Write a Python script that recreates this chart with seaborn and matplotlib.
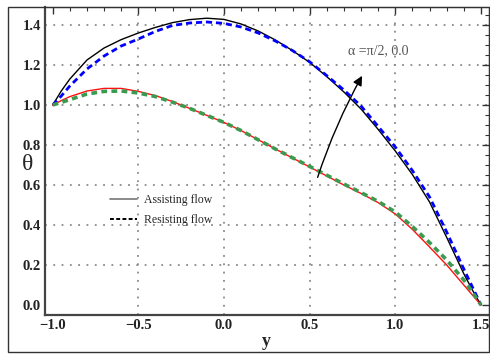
import numpy as np
import pandas as pd
import matplotlib
matplotlib.use("Agg")
import matplotlib.pyplot as plt
from matplotlib.lines import Line2D
from matplotlib.patches import Rectangle
from matplotlib.ticker import MultipleLocator, FuncFormatter
import seaborn as sns

# ---- data ----
y_vals = [-1.0, -0.95, -0.9, -0.8, -0.7, -0.6, -0.5, -0.4, -0.3, -0.2, -0.1, 0.0, 0.1, 0.2,
          0.3, 0.4, 0.5, 0.6, 0.7, 0.8, 0.9, 1.0, 1.1, 1.2, 1.3, 1.4, 1.45, 1.5]
assist_upper = [1.0, 1.07, 1.13, 1.225, 1.285, 1.327, 1.36, 1.388, 1.412, 1.427, 1.434, 1.428,
                1.405, 1.37, 1.325, 1.272, 1.213, 1.142, 1.065, 0.98, 0.878, 0.77, 0.652,
                0.515, 0.338, 0.156, 0.075, 0.0]
resist_upper = [1.0, 1.045, 1.095, 1.18, 1.245, 1.295, 1.33, 1.368, 1.398, 1.41, 1.415, 1.408,
                1.39, 1.36, 1.32, 1.272, 1.216, 1.147, 1.075, 0.995, 0.893, 0.79, 0.672,
                0.54, 0.365, 0.18, 0.09, 0.0]
assist_lower = [1.0, 1.022, 1.042, 1.07, 1.083, 1.083, 1.068, 1.047, 1.017, 0.983, 0.948, 0.913,
                0.872, 0.826, 0.78, 0.735, 0.69, 0.645, 0.6, 0.558, 0.512, 0.455, 0.378,
                0.29, 0.2, 0.1, 0.05, 0.0]
resist_lower = [1.0, 1.013, 1.027, 1.055, 1.068, 1.07, 1.06, 1.042, 1.014, 0.983, 0.948, 0.913,
                0.872, 0.826, 0.78, 0.736, 0.693, 0.649, 0.605, 0.562, 0.518, 0.465, 0.392,
                0.312, 0.225, 0.125, 0.065, 0.0]

x_ticks = [-1.0, -0.5, 0.0, 0.5, 1.0, 1.5]
y_ticks = [0.0, 0.2, 0.4, 0.6, 0.8, 1.0, 1.2, 1.4]
legend_labels = ["Assisting flow", "Resisting flow"]
annot_text = "α =π/2, 0.0"

df = pd.DataFrame({"y": y_vals, "au": assist_upper, "ru": resist_upper,
                   "al": assist_lower, "rl": resist_lower})

sns.set_style("white")
plt.rcParams["font.family"] = ["Liberation Serif", "DejaVu Serif"]

fig = plt.figure(figsize=(4.9, 3.54), dpi=100)
ax = fig.add_axes([45 / 490, 1 - 315 / 354, (489 - 45) / 490, (315 - 7) / 354])

ax.set_xlim(-1.045, 1.547)
ax.set_ylim(-0.05, 1.49)

# grid (dotted) at interior major ticks
for gx in [-0.5, 0.0, 0.5, 1.0]:
    ax.axvline(gx, color="#8a8a8a", lw=1.3, ls=(0, (1, 3.6)), zorder=0)
for gy in [0.2, 0.4, 0.6, 0.8, 1.0, 1.2, 1.4]:
    ax.axhline(gy, color="#8a8a8a", lw=1.3, ls=(0, (1, 3.6)), zorder=0)

sns.lineplot(data=df, x="y", y="au", ax=ax, color="black", lw=1.0, sort=False)
sns.lineplot(data=df, x="y", y="ru", ax=ax, color="#0000ff", lw=2.0, sort=False,
             linestyle=(0, (2.2, 1.4)))
sns.lineplot(data=df, x="y", y="al", ax=ax, color="#ff1010", lw=1.0, sort=False)
sns.lineplot(data=df, x="y", y="rl", ax=ax, color="#3c9a50", lw=2.6, sort=False,
             linestyle=(0, (1.6, 1.2)))

# ticks
ax.set_xticks(x_ticks)
ax.set_yticks(y_ticks)
ax.xaxis.set_minor_locator(MultipleLocator(0.1))
ax.yaxis.set_minor_locator(MultipleLocator(0.05))
ax.xaxis.set_major_formatter(FuncFormatter(lambda v, p: f"{v:.1f}".replace("-", "\u2212")))
ax.yaxis.set_major_formatter(FuncFormatter(lambda v, p: f"{v:.1f}"))
ax.tick_params(which="both", direction="in", top=True, right=True, colors="#333333")
ax.tick_params(which="major", length=5, width=1.0, labelsize=10.5, pad=3)
ax.tick_params(which="minor", length=2.8, width=0.8)
for lab in ax.get_xticklabels() + ax.get_yticklabels():
    lab.set_fontweight("bold")
    lab.set_color("#222222")

for side in ["left", "bottom"]:
    ax.spines[side].set_linewidth(1.6)
    ax.spines[side].set_color("#444444")
for side in ["top", "right"]:
    ax.spines[side].set_linewidth(0.8)
    ax.spines[side].set_color("#555555")

ax.set_xlabel("")
ax.set_ylabel("")
fig.text(27.5 / 490, 1 - 165 / 354, "θ", fontsize=17, ha="center", va="center")
fig.text(266 / 490, 1 - 342 / 354, "y", fontsize=13, fontweight="bold", ha="center", va="center")

# legend
handles = [Line2D([], [], color="#777777", lw=1.2),
           Line2D([], [], color="black", lw=1.4, ls=(0, (2, 1.2)))]
leg = ax.legend(handles, legend_labels, loc="upper left", bbox_to_anchor=(60 / 444, 1 - 182 / 308),
                frameon=False, fontsize=8.5, handlelength=2.3, handletextpad=0.6,
                labelspacing=0.7, borderaxespad=0)

# annotation arrow
ax.annotate("", xy=(0.814, 1.158), xytext=(0.5415, 0.625),
            arrowprops=dict(arrowstyle="-|>", color="black", lw=1.0,
                            connectionstyle="arc3,rad=-0.05", mutation_scale=14))
ax.text(0.9, 1.27, annot_text, fontsize=10, color="#555555", ha="center", va="center")

# outer frame
fig.patches.append(Rectangle((8 / 490, 2 / 354), 481 / 490, 345 / 354, transform=fig.transFigure,
                             fill=False, edgecolor="#333333", lw=1.0))

fig.savefig("out.png", dpi=100)
